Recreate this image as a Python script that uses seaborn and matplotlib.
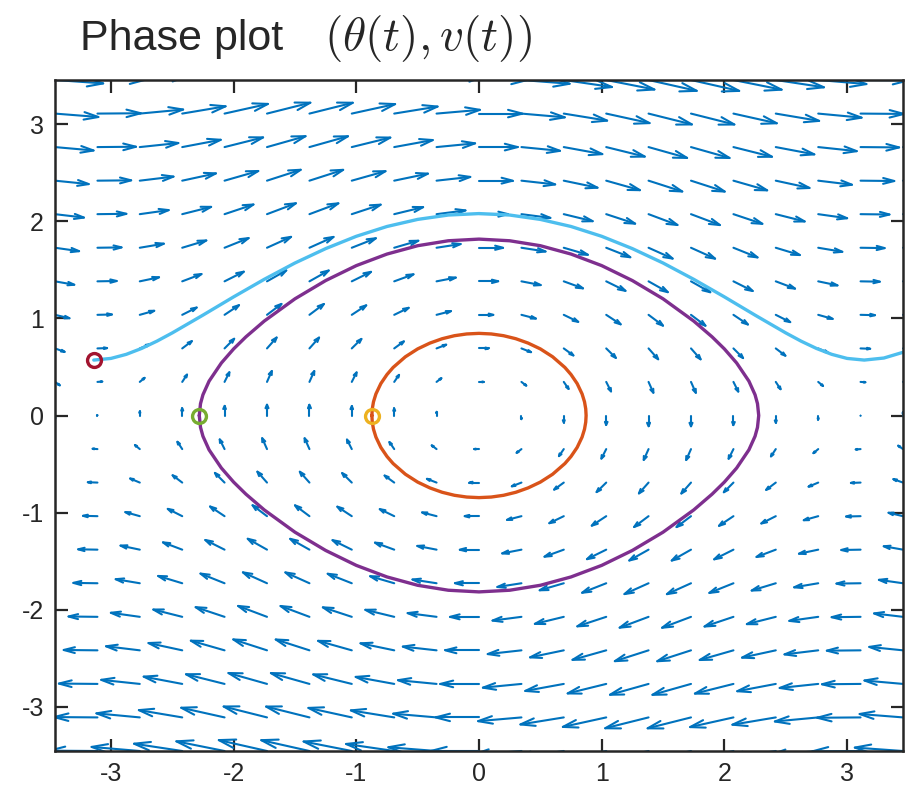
import numpy as np
import pandas as pd
import matplotlib.pyplot as plt
from matplotlib.collections import LineCollection
import seaborn as sns

# --- grid of the direction field (theta across, v up) ---
theta_grid = [-3.456, -3.110, -2.765, -2.419, -2.074, -1.728, -1.382, -1.037, -0.691, -0.346, 0.0,
              0.346, 0.691, 1.037, 1.382, 1.728, 2.074, 2.419, 2.765, 3.110, 3.456]
v_grid = [-3.456, -3.110, -2.765, -2.419, -2.074, -1.728, -1.382, -1.037, -0.691, -0.346, 0.0,
          0.346, 0.691, 1.037, 1.382, 1.728, 2.074, 2.419, 2.765, 3.110, 3.456]
# horizontal arrow component, one per row
row_dtheta = [-3.456, -3.110, -2.765, -2.419, -2.074, -1.728, -1.382, -1.037, -0.691, -0.346, 0.0,
              0.346, 0.691, 1.037, 1.382, 1.728, 2.074, 2.419, 2.765, 3.110, 3.456]
# vertical arrow component, one per column
col_dv = [-0.309, 0.031, 0.368, 0.661, 0.876, 0.988, 0.982, 0.861, 0.637, 0.339, 0.0,
          -0.339, -0.637, -0.861, -0.982, -0.988, -0.876, -0.661, -0.368, -0.031, 0.309]

# --- trajectories ---
orange_theta = [-0.873, -0.87, -0.86, -0.84, -0.80, -0.75, -0.70, -0.60, -0.50, -0.40, -0.30, -0.20, -0.10, 0.00,
                0.10, 0.20, 0.30, 0.40, 0.50, 0.60, 0.70, 0.75, 0.80, 0.84, 0.86, 0.87, 0.873,
                0.87, 0.86, 0.84, 0.80, 0.75, 0.70, 0.60, 0.50, 0.40, 0.30, 0.20, 0.10, 0.00,
                -0.10, -0.20, -0.30, -0.40, -0.50, -0.60, -0.70, -0.75, -0.80, -0.84, -0.86, -0.87, -0.873]
orange_v = [0.000, 0.068, 0.141, 0.223, 0.329, 0.422, 0.495, 0.605, 0.686, 0.746, 0.791, 0.822, 0.840, 0.846,
            0.840, 0.822, 0.791, 0.746, 0.686, 0.605, 0.495, 0.422, 0.329, 0.223, 0.141, 0.068, 0.000,
            -0.068, -0.141, -0.223, -0.329, -0.422, -0.495, -0.605, -0.686, -0.746, -0.791, -0.822, -0.840, -0.846,
            -0.840, -0.822, -0.791, -0.746, -0.686, -0.605, -0.495, -0.422, -0.329, -0.223, -0.141, -0.068, 0.000]

purple_theta = [-2.28, -2.27, -2.25, -2.20, -2.10, -2.00, -1.90, -1.75, -1.50, -1.25, -1.00, -0.75, -0.50, -0.25, 0.00,
                0.25, 0.50, 0.75, 1.00, 1.25, 1.50, 1.75, 1.90, 2.00, 2.10, 2.20, 2.25, 2.27, 2.28,
                2.27, 2.25, 2.20, 2.10, 2.00, 1.90, 1.75, 1.50, 1.25, 1.00, 0.75, 0.50, 0.25, 0.00,
                -0.25, -0.50, -0.75, -1.00, -1.25, -1.50, -1.75, -1.90, -2.00, -2.10, -2.20, -2.25, -2.27, -2.28]
purple_v = [0.000, 0.122, 0.214, 0.354, 0.541, 0.686, 0.810, 0.973, 1.202, 1.390, 1.544, 1.663, 1.749, 1.800, 1.817,
            1.800, 1.749, 1.663, 1.544, 1.390, 1.202, 0.973, 0.810, 0.686, 0.541, 0.354, 0.214, 0.122, 0.000,
            -0.122, -0.214, -0.354, -0.541, -0.686, -0.810, -0.973, -1.202, -1.390, -1.544, -1.663, -1.749, -1.800, -1.817,
            -1.800, -1.749, -1.663, -1.544, -1.390, -1.202, -0.973, -0.810, -0.686, -0.541, -0.354, -0.214, -0.122, 0.000]

blue_theta = [-3.14, -3.00, -2.875, -2.75, -2.625, -2.50, -2.25, -2.00, -1.75, -1.50, -1.25, -1.00, -0.75, -0.50, -0.25, 0.00,
              0.25, 0.50, 0.75, 1.00, 1.25, 1.50, 1.75, 2.00, 2.25, 2.50, 2.625, 2.75, 2.875, 3.00, 3.14, 3.30, 3.456]
blue_v = [0.571, 0.588, 0.630, 0.691, 0.766, 0.851, 1.034, 1.222, 1.403, 1.571, 1.719, 1.846, 1.947, 2.020, 2.065, 2.080,
          2.065, 2.020, 1.947, 1.846, 1.719, 1.571, 1.403, 1.222, 1.034, 0.851, 0.766, 0.691, 0.630, 0.588, 0.571, 0.592, 0.651]

# starting points
start_theta = [-0.873, -2.28, -3.14]
start_v = [0.0, 0.0, 0.571]
start_name = ["inner", "middle", "outer"]

LINE_COLORS = {"inner": "#D95319", "middle": "#7E2F8E", "outer": "#4DBEEE"}
MARKER_COLORS = {"inner": "#EDB120", "middle": "#77AC30", "outer": "#A2142F"}

# --- build tables ---
TH, VV = np.meshgrid(theta_grid, v_grid)
DW, DU = np.meshgrid(col_dv, row_dtheta)
field = pd.DataFrame({"theta": TH.ravel(), "v": VV.ravel(), "u": DU.ravel(), "w": DW.ravel()})

traj = pd.concat([
    pd.DataFrame({"theta": orange_theta, "v": orange_v, "orbit": "inner"}),
    pd.DataFrame({"theta": purple_theta, "v": purple_v, "orbit": "middle"}),
    pd.DataFrame({"theta": blue_theta, "v": blue_v, "orbit": "outer"}),
], ignore_index=True)
starts = pd.DataFrame({"theta": start_theta, "v": start_v, "orbit": start_name})

# matlab-style arrows: shaft + open head, head size proportional to arrow length
arrow_scale = 1 / 8.8
alpha, beta = 0.33, 0.33
x0, y0 = field["theta"].values, field["v"].values
u, w = field["u"].values * arrow_scale, field["w"].values * arrow_scale
x1, y1 = x0 + u, y0 + w
segs = []
for i in range(len(x0)):
    if u[i] == 0 and w[i] == 0:
        continue
    segs.append([(x0[i], y0[i]), (x1[i], y1[i])])
    segs.append([(x1[i] - alpha * (u[i] + beta * w[i]), y1[i] - alpha * (w[i] - beta * u[i])),
                 (x1[i], y1[i]),
                 (x1[i] - alpha * (u[i] - beta * w[i]), y1[i] - alpha * (w[i] + beta * u[i]))])

# --- plot ---
sns.set_style("white")
plt.rcParams["axes.unicode_minus"] = False
plt.rcParams["mathtext.fontset"] = "cm"
plt.rcParams["font.family"] = ["Liberation Sans", "DejaVu Sans"]

fig = plt.figure(figsize=(9.14, 7.88), dpi=100)
ax = fig.add_axes([55 / 914, 37 / 788, 848 / 914, 671 / 788])

ax.add_collection(LineCollection(segs, colors="#0072BD", linewidths=1.5,
                                 capstyle="round", joinstyle="round", zorder=1))

sns.lineplot(data=traj, x="theta", y="v", hue="orbit", palette=LINE_COLORS,
             sort=False, estimator=None, linewidth=2.4, legend=False, ax=ax, zorder=2)

for _, row in starts.iterrows():
    ax.plot(row["theta"], row["v"], "o", ms=10, mfc="none", mec=MARKER_COLORS[row["orbit"]],
            mew=2.4, zorder=3)

ax.set_xlim(theta_grid[0], theta_grid[-1])
ax.set_ylim(v_grid[0], v_grid[-1])
ax.set_xticks([-3, -2, -1, 0, 1, 2, 3])
ax.set_yticks([-3, -2, -1, 0, 1, 2, 3])
ax.set_xlabel("")
ax.set_ylabel("")
ax.tick_params(direction="in", length=9, width=1.6, labelsize=18, colors="#262626",
               top=True, right=True, bottom=True, left=True, pad=8)
for s in ax.spines.values():
    s.set_color("#262626")
    s.set_linewidth(1.8)

fig.text(80 / 914, 1 - 50 / 788, "Phase plot", fontsize=31, ha="left", va="baseline")
fig.text(324 / 914, 1 - 50 / 788, r"$(\theta(t), v(t))$", fontsize=34, ha="left", va="baseline")

fig.savefig("out.png", dpi=100)
